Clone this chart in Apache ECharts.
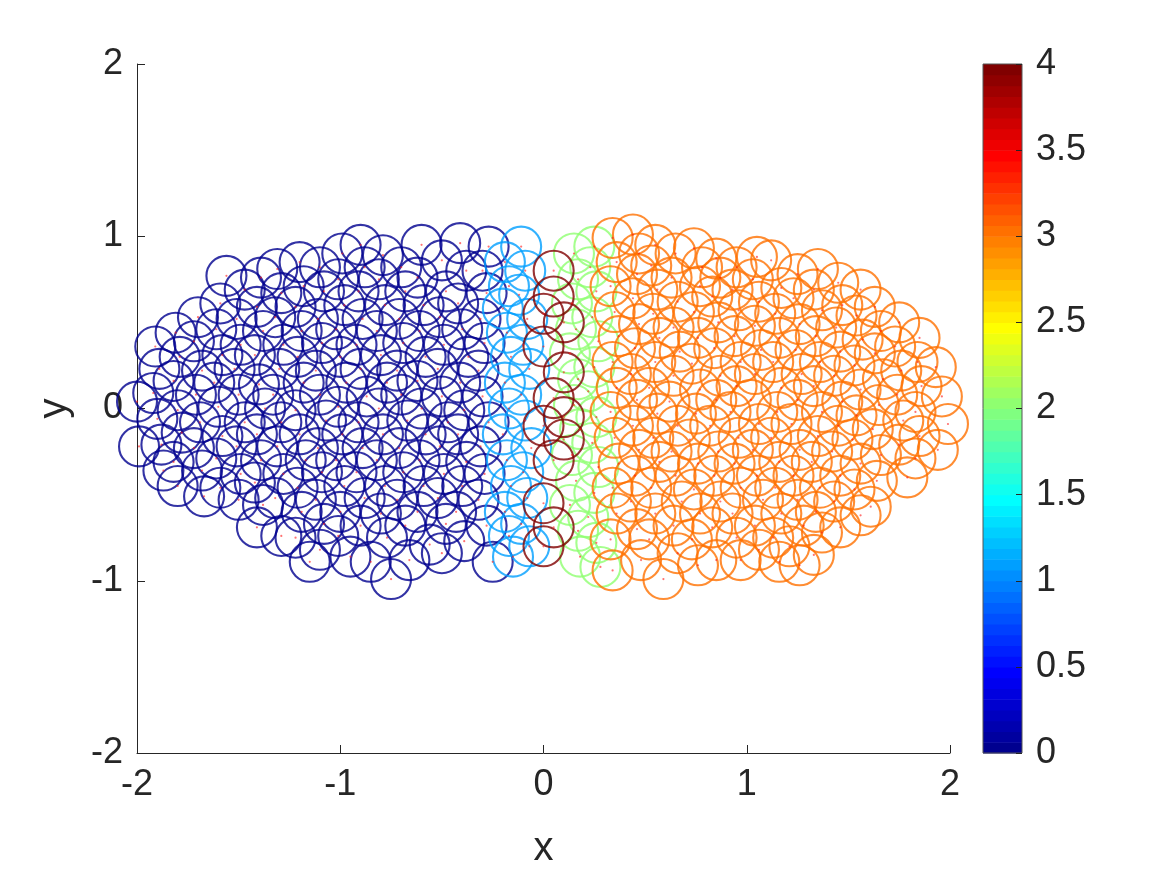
<!DOCTYPE html>
<html>
<head>
<meta charset="utf-8">
<script src="https://cdn.jsdelivr.net/npm/echarts@6/dist/echarts.min.js"></script>
<style>html,body{margin:0;padding:0;background:#fff}#c{width:1167px;height:875px}</style>
</head>
<body>
<div id="c"></div>
<script>
// ---- data (particle centres) ----
const darkBlue = [ // value 0
[-2.00,0.04],[-1.99,-0.22],
[-1.91,0.36],[-1.89,0.23],[-1.92,0.09],[-1.90,-0.06],[-1.88,-0.21],[-1.87,-0.36],
[-1.81,0.44],[-1.79,0.30],[-1.82,0.16],[-1.80,-0.01],[-1.78,-0.14],[-1.82,-0.31],[-1.80,-0.45],
[-1.70,0.53],[-1.72,0.39],[-1.68,0.22],[-1.71,0.08],[-1.69,-0.08],[-1.72,-0.23],[-1.68,-0.36],[-1.67,-0.51],
[-1.59,0.61],[-1.61,0.46],[-1.58,0.31],[-1.62,0.15],[-1.60,0.01],[-1.58,-0.16],[-1.61,-0.29],[-1.59,-0.46],
[-1.56,0.77],[-1.47,0.69],[-1.51,0.52],[-1.49,0.37],[-1.52,0.23],[-1.50,0.08],[-1.47,-0.08],[-1.51,-0.22],[-1.49,-0.38],[-1.50,-0.53],
[-1.39,0.76],[-1.41,0.59],[-1.38,0.45],[-1.42,0.31],[-1.40,0.14],[-1.37,0.00],[-1.41,-0.15],[-1.39,-0.30],[-1.42,-0.43],[-1.38,-0.56],[-1.41,-0.69],
[-1.31,0.81],[-1.29,0.67],[-1.32,0.53],[-1.28,0.37],[-1.30,0.23],[-1.33,0.08],[-1.29,-0.08],[-1.31,-0.22],[-1.28,-0.38],[-1.32,-0.52],[-1.29,-0.74],
[-1.20,0.85],[-1.18,0.71],[-1.22,0.59],[-1.19,0.45],[-1.21,0.30],[-1.18,0.15],[-1.22,-0.01],[-1.20,-0.15],[-1.17,-0.30],[-1.21,-0.46],[-1.19,-0.60],[-1.22,-0.75],[-1.15,-0.89],
[-1.10,0.82],[-1.08,0.68],[-1.11,0.52],[-1.09,0.38],[-1.12,0.22],[-1.10,0.08],[-1.07,-0.07],[-1.11,-0.23],[-1.09,-0.37],[-1.12,-0.53],[-1.08,-0.67],[-1.10,-0.82],
[-0.99,0.90],[-1.01,0.75],[-0.98,0.60],[-1.02,0.46],[-1.00,0.30],[-0.97,0.15],[-1.01,0.01],[-0.99,-0.15],[-1.02,-0.30],[-0.98,-0.45],[-1.00,-0.60],[-1.01,-0.74],[-0.95,-0.86],
[-0.90,0.95],[-0.88,0.82],[-0.91,0.68],[-0.89,0.52],[-0.92,0.37],[-0.90,0.23],[-0.87,0.07],[-0.91,-0.08],[-0.89,-0.23],[-0.92,-0.37],[-0.88,-0.52],[-0.90,-0.68],[-0.85,-0.89],
[-0.79,0.89],[-0.81,0.75],[-0.78,0.60],[-0.82,0.45],[-0.80,0.31],[-0.77,0.15],[-0.81,0.00],[-0.79,-0.15],[-0.82,-0.30],[-0.78,-0.45],[-0.80,-0.61],[-0.77,-0.75],[-0.75,-0.99],
[-0.70,0.82],[-0.68,0.68],[-0.71,0.52],[-0.69,0.38],[-0.72,0.22],[-0.70,0.08],[-0.67,-0.07],[-0.71,-0.23],[-0.69,-0.37],[-0.72,-0.53],[-0.68,-0.68],[-0.66,-0.88],
[-0.60,0.95],[-0.62,0.76],[-0.59,0.60],[-0.61,0.45],[-0.58,0.30],[-0.62,0.16],[-0.60,0.00],[-0.58,-0.15],[-0.61,-0.30],[-0.59,-0.45],[-0.62,-0.60],[-0.56,-0.79],
[-0.50,0.86],[-0.48,0.68],[-0.51,0.53],[-0.49,0.37],[-0.52,0.23],[-0.50,0.07],[-0.47,-0.08],[-0.51,-0.22],[-0.49,-0.38],[-0.52,-0.52],[-0.48,-0.67],[-0.50,-0.84],
[-0.41,0.96],[-0.38,0.80],[-0.42,0.61],[-0.40,0.46],[-0.37,0.30],[-0.41,0.15],[-0.39,-0.01],[-0.42,-0.15],[-0.38,-0.31],[-0.40,-0.45],[-0.43,-0.60],[-0.39,-0.77],
[-0.27,0.94],[-0.30,0.80],[-0.28,0.67],[-0.31,0.52],[-0.29,0.38],[-0.32,0.22],[-0.30,0.07],[-0.27,-0.08],[-0.31,-0.22],[-0.29,-0.38],[-0.32,-0.53],[-0.28,-0.68],[-0.25,-0.89]
];
const lightBlue = [ // value about 1.1
[-0.19,0.85],[-0.17,0.71],[-0.20,0.58],[-0.18,0.44],[-0.16,0.30],[-0.19,0.15],[-0.17,0.00],[-0.20,-0.15],[-0.18,-0.30],[-0.16,-0.45],[-0.19,-0.60],[-0.17,-0.74],[-0.15,-0.86],
[-0.11,0.94],[-0.09,0.80],[-0.12,0.66],[-0.08,0.52],[-0.10,0.37],[-0.07,0.23],[-0.11,0.08],[-0.09,-0.07],[-0.06,-0.23],[-0.10,-0.37],[-0.08,-0.52],[-0.11,-0.67],[-0.07,-0.80]
];
const lightGreen = [ // value 2
[0.15,0.90],[0.17,0.75],[0.14,0.61],[0.16,0.46],[0.13,0.32],[0.17,0.17],[0.15,0.02],[0.18,-0.12],[0.14,-0.27],[0.16,-0.42],[0.13,-0.56],[0.17,-0.71],[0.18,-0.86],
[0.25,0.94],[0.23,0.82],[0.26,0.68],[0.24,0.53],[0.27,0.39],[0.25,0.24],[0.22,0.10],[0.26,-0.05],[0.24,-0.20],[0.27,-0.34],[0.25,-0.49],[0.22,-0.63],[0.26,-0.78],[0.28,-0.92]
];
const orange = [ // value 3
[0.34,0.99],[0.36,0.85],[0.33,0.71],[0.35,0.56],[0.37,0.42],[0.34,0.27],[0.36,0.12],[0.33,-0.02],[0.35,-0.17],[0.37,-0.32],[0.34,-0.46],[0.36,-0.61],[0.33,-0.76],[0.34,-0.94],
[0.44,1.01],[0.47,0.90],[0.46,0.78],[0.44,0.64],[0.47,0.49],[0.45,0.35],[0.43,0.20],[0.46,0.05],[0.44,-0.10],[0.47,-0.24],[0.45,-0.39],[0.43,-0.54],[0.46,-0.70],[0.48,-0.88],
[0.55,0.95],[0.53,0.83],[0.56,0.69],[0.54,0.55],[0.57,0.41],[0.55,0.27],[0.52,0.12],[0.56,-0.03],[0.54,-0.17],[0.57,-0.31],[0.53,-0.46],[0.55,-0.61],[0.52,-0.76],[0.59,-0.99],
[0.65,0.90],[0.63,0.76],[0.66,0.62],[0.64,0.47],[0.67,0.33],[0.64,0.19],[0.62,0.04],[0.66,-0.10],[0.63,-0.25],[0.65,-0.39],[0.68,-0.54],[0.64,-0.68],[0.66,-0.84],
[0.74,0.93],[0.78,0.82],[0.77,0.71],[0.74,0.56],[0.76,0.41],[0.73,0.26],[0.77,0.11],[0.75,-0.03],[0.72,-0.18],[0.76,-0.32],[0.74,-0.47],[0.77,-0.61],[0.73,-0.76],[0.76,-0.91],
[0.85,0.87],[0.87,0.76],[0.83,0.65],[0.86,0.50],[0.84,0.35],[0.87,0.19],[0.85,0.05],[0.82,-0.10],[0.86,-0.25],[0.84,-0.39],[0.87,-0.54],[0.83,-0.69],[0.85,-0.88],
[0.95,0.82],[0.93,0.69],[0.96,0.57],[0.94,0.42],[0.97,0.27],[0.95,0.13],[0.92,-0.02],[0.96,-0.17],[0.94,-0.32],[0.97,-0.46],[0.93,-0.61],[0.95,-0.75],[0.97,-0.88],
[1.05,0.88],[1.03,0.75],[1.06,0.62],[1.04,0.48],[1.07,0.34],[1.04,0.20],[1.02,0.05],[1.06,-0.09],[1.03,-0.24],[1.05,-0.39],[1.08,-0.53],[1.04,-0.68],[1.06,-0.82],
[1.12,0.86],[1.17,0.70],[1.14,0.55],[1.16,0.41],[1.13,0.27],[1.17,0.12],[1.15,-0.02],[1.12,-0.17],[1.16,-0.31],[1.14,-0.46],[1.17,-0.61],[1.13,-0.75],[1.16,-0.89],
[1.25,0.78],[1.23,0.64],[1.26,0.49],[1.24,0.34],[1.27,0.20],[1.25,0.05],[1.22,-0.09],[1.26,-0.24],[1.23,-0.39],[1.25,-0.53],[1.28,-0.68],[1.21,-0.80],[1.26,-0.91],
[1.35,0.81],[1.33,0.69],[1.37,0.57],[1.34,0.42],[1.36,0.27],[1.33,0.13],[1.37,-0.02],[1.35,-0.16],[1.32,-0.31],[1.36,-0.46],[1.34,-0.60],[1.37,-0.72],[1.33,-0.85],
[1.45,0.73],[1.47,0.60],[1.44,0.47],[1.46,0.33],[1.43,0.19],[1.47,0.04],[1.45,-0.10],[1.42,-0.25],[1.46,-0.39],[1.43,-0.54],[1.46,-0.69],
[1.56,0.69],[1.54,0.54],[1.57,0.40],[1.53,0.25],[1.56,0.11],[1.54,-0.04],[1.52,-0.18],[1.56,-0.32],[1.53,-0.47],[1.56,-0.62],
[1.63,0.59],[1.66,0.45],[1.63,0.32],[1.67,0.17],[1.65,0.02],[1.62,-0.12],[1.66,-0.27],[1.64,-0.42],[1.61,-0.57],
[1.75,0.50],[1.73,0.36],[1.76,0.22],[1.74,0.08],[1.77,-0.07],[1.75,-0.21],[1.79,-0.40],
[1.85,0.41],[1.84,0.27],[1.86,0.13],[1.83,-0.02],[1.85,-0.16],[1.83,-0.29],
[1.93,0.24],[1.96,0.07],[1.99,-0.09],[1.94,-0.24]
];
const darkRed = [ // value 4
[0.05,0.80],[0.05,0.65],[0.00,0.55],[0.10,0.50],[0.00,0.36],[0.10,0.21],[0.05,0.06],[0.10,-0.05],[0.00,-0.10],[0.10,-0.18],[0.05,-0.30],[0.00,-0.55],[0.05,-0.69],[0.00,-0.80]
];
const groupValues = [0, 1.1, 2, 3, 4];
const groupData = [darkBlue, lightBlue, lightGreen, orange, darkRed];
const axisTicks = [-2, -1, 0, 1, 2];
const colorbarTicks = [0, 0.5, 1, 1.5, 2, 2.5, 3, 3.5, 4];
const cMin = 0, cMax = 4, colormapLength = 64;

// ---- MATLAB jet(64) colormap ----
function jetU(k) { if (k < 1) return 0; if (k <= 16) return k / 16; if (k <= 31) return 1; if (k <= 47) return (48 - k) / 16; return 0; }
function jet64(i) {
  const r = i >= 25 ? jetU(i - 24) : 0;
  const g = (i >= 9 && i <= 55) ? jetU(i - 8) : 0;
  const b = i <= 39 ? jetU(i + 8) : 0;
  return 'rgb(' + Math.round(r * 255) + ',' + Math.round(g * 255) + ',' + Math.round(b * 255) + ')';
}
function colorOf(v) {
  let i = Math.floor((v - cMin) / (cMax - cMin) * colormapLength) + 1;
  return jet64(Math.max(1, Math.min(colormapLength, i)));
}
const colorbarRows = [];
for (let i = 1; i <= colormapLength; i++) {
  colorbarRows.push([cMin + (i - 1) * (cMax - cMin) / colormapLength, cMin + i * (cMax - cMin) / colormapLength, i]);
}

const FONT = "'Liberation Sans', Arial, Helvetica, sans-serif";
const TXT = '#262626';
const chart = echarts.init(document.getElementById('c'), null, { renderer: 'canvas' });

const series = groupData.map((d, gi) => ({
  type: 'scatter', xAxisIndex: 0, yAxisIndex: 0, data: d, symbol: 'circle', symbolSize: 40,
  clip: false, silent: true, z: 2 + gi,
  itemStyle: { color: 'rgba(0,0,0,0)', borderColor: colorOf(groupValues[gi]), borderWidth: 2.1 },
  emphasis: { disabled: true }
}));
series.push({
  type: 'scatter', xAxisIndex: 0, yAxisIndex: 0, data: [].concat(...groupData), symbol: 'circle', symbolSize: 2.2,
  clip: false, silent: true, z: 10, itemStyle: { color: 'rgba(255,20,20,0.75)' }, emphasis: { disabled: true }
});
series.push({
  type: 'custom', xAxisIndex: 1, yAxisIndex: 1, data: colorbarRows, silent: true, z: 1,
  encode: { y: [0, 1] },
  renderItem: function (params, api) {
    const top = api.coord([0, api.value(1)]);
    const bot = api.coord([1, api.value(0)]);
    return { type: 'rect', shape: { x: top[0], y: top[1], width: bot[0] - top[0], height: bot[1] - top[1] + 0.6 },
      style: { fill: jet64(api.value(2)) } };
  }
});

chart.setOption({
  animation: false,
  backgroundColor: '#ffffff',
  textStyle: { fontFamily: FONT },
  grid: [
    { left: 137, top: 64, width: 813, height: 689, containLabel: false },
    { left: 983, top: 64, width: 39, height: 689, show: true, borderColor: '#555', borderWidth: 1, backgroundColor: 'transparent', z: 5 }
  ],
  xAxis: [
    { gridIndex: 0, type: 'value', min: -2, max: 2, interval: 1,
      axisLine: { show: true, onZero: false, lineStyle: { color: TXT, width: 1 } },
      axisTick: { show: true, inside: true, length: 8, lineStyle: { color: TXT } },
      axisLabel: { fontSize: 36, color: TXT, margin: 14, fontFamily: FONT, formatter: v => String(v) },
      splitLine: { show: false },
      name: 'x', nameLocation: 'middle', nameGap: 76, nameTextStyle: { fontSize: 40, color: TXT, fontFamily: FONT } },
    { gridIndex: 1, type: 'value', min: 0, max: 1, show: false }
  ],
  yAxis: [
    { gridIndex: 0, type: 'value', min: -2, max: 2, interval: 1,
      axisLine: { show: true, onZero: false, lineStyle: { color: TXT, width: 1 } },
      axisTick: { show: true, inside: true, length: 8, lineStyle: { color: TXT } },
      axisLabel: { fontSize: 36, color: TXT, margin: 14, fontFamily: FONT, formatter: v => String(v) },
      splitLine: { show: false },
      name: 'y', nameLocation: 'middle', nameGap: 62, nameRotate: 90, nameTextStyle: { fontSize: 40, color: TXT, fontFamily: FONT } },
    { gridIndex: 1, type: 'value', min: cMin, max: cMax, interval: 0.5, position: 'right', z: 20,
      axisLine: { show: false, onZero: false },
      axisTick: { show: true, inside: true, length: 6, lineStyle: { color: TXT } },
      axisLabel: { fontSize: 36, color: TXT, margin: 14, fontFamily: FONT, formatter: v => String(v) },
      splitLine: { show: false } }
  ],
  series: series
});
</script>
</body>
</html>
